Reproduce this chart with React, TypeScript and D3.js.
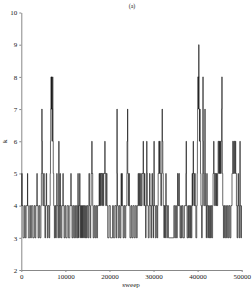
import React, { useEffect, useRef } from 'react';
import * as d3 from 'd3';

// change points of the trace: [sweep, k] (k holds until the next point)
const kTrace: [number, number][] = [
  [0, 4], [120, 5], [180, 4], [400, 3], [700, 4], [900, 3], [1100, 4], [1400, 5], [1450, 4], [1600, 3],
  [1900, 4], [2100, 3], [2300, 4], [2600, 3], [2900, 4], [3100, 3], [3300, 4], [3550, 5], [3600, 4], [3800, 3],
  [4000, 4], [4200, 3], [4450, 4], [4550, 5], [4650, 7], [4720, 6], [4780, 5], [4900, 4], [5100, 5], [5200, 4],
  [5350, 3], [5500, 4], [5650, 5], [5750, 4], [5900, 3], [6050, 4], [6300, 3], [6450, 4], [6550, 5], [6620, 6],
  [6680, 7], [6750, 8], [6800, 7], [6880, 8], [6930, 7], [7000, 6], [7050, 7], [7120, 8], [7150, 7], [7200, 6],
  [7250, 5], [7350, 4], [7500, 3], [7650, 4], [7800, 3], [7950, 4], [8050, 5], [8120, 4], [8300, 3], [8450, 4],
  [8500, 6], [8560, 4], [8700, 3], [8800, 5], [8850, 4], [9000, 3], [9200, 4], [9450, 5], [9500, 4], [9700, 3],
  [9900, 4], [10100, 3], [10400, 4], [10700, 3], [11000, 4], [11250, 5], [11300, 4], [11500, 3], [11700, 4], [11900, 3],
  [12100, 4], [12300, 3], [12500, 4], [12700, 3], [12850, 5], [12900, 4], [13000, 3], [13100, 4], [13250, 5], [13300, 4],
  [13400, 3], [13500, 4], [13650, 3], [13750, 4], [13900, 3], [14000, 4], [14150, 3], [14300, 4], [14450, 3], [14600, 4],
  [14750, 3], [14900, 4], [15100, 3], [15300, 4], [15350, 5], [15450, 4], [15600, 3], [15750, 4], [15850, 5], [16000, 6],
  [16050, 5], [16200, 4], [16300, 3], [16500, 4], [16700, 3], [16900, 4], [17100, 3], [17300, 4], [17650, 5], [17750, 4],
  [17850, 5], [18000, 4], [18100, 5], [18300, 4], [18400, 5], [18600, 4], [18700, 5], [18950, 6], [19000, 5], [19150, 4],
  [19300, 5], [19450, 4], [19600, 3], [19900, 4], [20200, 3], [20700, 4], [20900, 3], [21200, 4], [21500, 3], [21650, 4],
  [21700, 7], [21750, 5], [21800, 4], [22000, 3], [22200, 4], [22400, 3], [22600, 4], [22650, 5], [22700, 4], [22850, 5],
  [22900, 4], [23100, 3], [23300, 4], [23500, 3], [23700, 4], [23950, 5], [24000, 6], [24100, 7], [24150, 5], [24300, 4],
  [24450, 5], [24500, 4], [24650, 3], [24900, 4], [25100, 3], [25350, 4], [25600, 3], [25850, 4], [26100, 3], [26300, 4],
  [26500, 5], [26600, 4], [26800, 5], [26900, 4], [27100, 5], [27200, 4], [27400, 5], [27650, 6], [27700, 5], [27800, 4],
  [27950, 5], [28050, 4], [28200, 3], [28300, 4], [28400, 5], [28450, 6], [28500, 5], [28600, 4], [28800, 3], [29000, 4],
  [29100, 5], [29200, 4], [29400, 3], [29550, 4], [29650, 5], [29750, 4], [29900, 3], [30000, 4], [30100, 6], [30150, 4],
  [30400, 3], [30600, 4], [30800, 3], [30950, 4], [31050, 5], [31200, 6], [31300, 5], [31400, 6], [31500, 5], [31650, 4],
  [31800, 5], [31900, 6], [31950, 7], [32000, 6], [32100, 5], [32200, 4], [32350, 3], [32450, 4], [32600, 3], [32700, 4],
  [32800, 5], [32850, 4], [33000, 3], [33150, 4], [33400, 3], [34600, 4], [34800, 3], [35000, 4], [35200, 3], [35400, 4],
  [35450, 5], [35550, 4], [35750, 5], [35850, 4], [36000, 3], [36200, 4], [36300, 3], [36500, 4], [36700, 3], [37000, 4],
  [37350, 5], [37400, 6], [37450, 4], [37600, 3], [37800, 4], [37950, 3], [38100, 4], [38250, 3], [38400, 4], [38550, 3],
  [38700, 4], [38750, 5], [38850, 4], [38950, 5], [39000, 6], [39050, 5], [39200, 4], [39350, 5], [39450, 4], [39600, 3],
  [39800, 4], [39900, 5], [39950, 6], [40000, 7], [40050, 8], [40150, 7], [40200, 8], [40250, 9], [40300, 8], [40350, 7],
  [40450, 6], [40500, 7], [40550, 6], [40650, 5], [40750, 4], [40900, 3], [41050, 4], [41150, 5], [41200, 8], [41250, 6],
  [41300, 5], [41400, 4], [41600, 5], [41650, 7], [41700, 5], [41800, 4], [41950, 3], [42050, 4], [42100, 5], [42150, 4],
  [42300, 3], [42450, 4], [42600, 3], [42750, 4], [42900, 3], [43050, 4], [43200, 3], [43400, 4], [43500, 5], [43650, 6],
  [43700, 5], [43850, 4], [44000, 5], [44150, 4], [44300, 5], [44400, 4], [44550, 5], [44650, 6], [44800, 5], [44900, 6],
  [45000, 5], [45100, 6], [45200, 5], [45350, 6], [45450, 7], [45500, 8], [45550, 6], [45600, 5], [45700, 4], [45850, 3],
  [46000, 4], [46150, 3], [46350, 4], [46550, 3], [46750, 4], [46950, 3], [47150, 4], [47350, 3], [47550, 4], [47800, 5],
  [47950, 6], [48100, 5], [48250, 6], [48400, 5], [48550, 6], [48650, 5], [48800, 4], [48950, 3], [49100, 4], [49200, 5],
  [49250, 4], [49400, 3], [49550, 4], [49600, 6], [49650, 4], [49800, 3], [49950, 4], [50000, 4],
];
const xTicks = [0, 10000, 20000, 30000, 40000, 50000];
const yTicks = [2, 3, 4, 5, 6, 7, 8, 9, 10];

const width = 252;
const height = 292;
const margin = { top: 12.5, right: 10.3, bottom: 22, left: 21.3 };

export default function App() {
  const ref = useRef<SVGSVGElement>(null);

  useEffect(() => {
    const svg = d3.select(ref.current);
    svg.selectAll('*').remove();

    const x = d3.scaleLinear().domain([0, 50000]).range([margin.left, width - margin.right]);
    const y = d3.scaleLinear().domain([2, 10]).range([height - margin.bottom, margin.top]);

    const font = '"Liberation Serif", "DejaVu Serif", serif';

    // x axis
    const gx = svg.append('g')
      .attr('transform', `translate(0, ${height - margin.bottom})`)
      .call(d3.axisBottom(x).tickValues(xTicks).tickFormat(d3.format('d')).tickSize(2).tickSizeOuter(0));
    gx.select('.domain').attr('stroke', '#888');
    gx.selectAll('.tick line').attr('stroke', '#888');
    gx.selectAll('.tick text').attr('font-family', font).attr('font-size', 7).attr('fill', '#222').attr('dy', '0.55em');

    // y axis
    const gy = svg.append('g')
      .attr('transform', `translate(${margin.left}, 0)`)
      .call(d3.axisLeft(y).tickValues(yTicks).tickFormat(d3.format('d')).tickSize(2).tickSizeOuter(0));
    gy.select('.domain').attr('stroke', '#888');
    gy.selectAll('.tick line').attr('stroke', '#888');
    gy.selectAll('.tick text').attr('font-family', font).attr('font-size', 7).attr('fill', '#222').attr('x', -4);

    // trace
    const line = d3.line<[number, number]>()
      .x(d => x(d[0]))
      .y(d => y(d[1]))
      .curve(d3.curveStepAfter);

    svg.append('path')
      .datum(kTrace)
      .attr('d', line)
      .attr('fill', 'none')
      .attr('stroke', '#000')
      .attr('stroke-width', 0.6);

    // title
    svg.append('text')
      .attr('x', 132).attr('y', 8)
      .attr('text-anchor', 'middle')
      .attr('font-family', font).attr('font-size', 6)
      .attr('fill', '#222')
      .text('(a)');

    // x label
    svg.append('text')
      .attr('x', 131).attr('y', 287)
      .attr('text-anchor', 'middle')
      .attr('font-family', font).attr('font-size', 7)
      .attr('fill', '#222')
      .text('sweep');

    // y label
    svg.append('text')
      .attr('transform', `translate(7, ${y(6)}) rotate(-90)`)
      .attr('text-anchor', 'middle')
      .attr('font-family', font).attr('font-size', 7)
      .attr('fill', '#222')
      .text('k');
  }, []);

  return (
    <svg ref={ref} width={width} height={height}
      style={{ position: 'absolute', left: 0, top: 0, background: '#fff' }} />
  );
}
